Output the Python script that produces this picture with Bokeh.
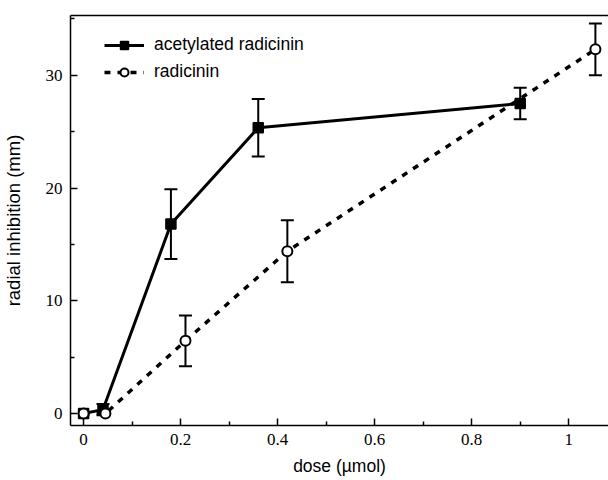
from bokeh.plotting import figure
from bokeh.models import (ColumnDataSource, Whisker, TeeHead, FixedTicker, Range1d,
                          Legend, LegendItem, LinearAxis, Title)
from bokeh.embed import file_html
from bokeh.resources import INLINE

# ---- data ----
acet_dose = [0.0, 0.04, 0.18, 0.36, 0.90]
acet_inhib = [0.0, 0.35, 16.8, 25.35, 27.5]
acet_err = [0.0, 0.5, 3.1, 2.55, 1.4]

rad_dose = [0.0, 0.045, 0.21, 0.42, 1.055]
rad_inhib = [0.0, 0.0, 6.45, 14.4, 32.3]
rad_err = [0.0, 0.0, 2.25, 2.75, 2.3]

x_ticks = [0, 0.2, 0.4, 0.6, 0.8, 1.0]
x_tick_labels = ["0", "0.2", "0.4", "0.6", "0.8", "1"]
x_minor = [0.1, 0.3, 0.5, 0.7, 0.9]
y_ticks = [0, 10, 20, 30]
y_minor = [5, 15, 25, 35]

SERIF = "Liberation Serif"
SANS = "Liberation Sans"

p = figure(frame_width=538, frame_height=410,
           x_range=Range1d(-0.027, 1.082), y_range=Range1d(-1.06, 35.3),
           output_backend="svg", toolbar_location=None,
           min_border_left=70, min_border_right=0, min_border_top=15, min_border_bottom=55)
p.outline_line_color = None
p.grid.visible = False
p.background_fill_color = "white"
p.border_fill_color = "white"

# axes styling
for ax in (p.xaxis[0], p.yaxis[0]):
    ax.axis_line_width = 1.5
    ax.axis_line_color = "black"
    ax.major_tick_in = 7
    ax.major_tick_out = 0
    ax.minor_tick_in = 4
    ax.minor_tick_out = 0
    ax.major_tick_line_width = 1.5
    ax.minor_tick_line_width = 1.5
    ax.major_label_text_font = SERIF
    ax.major_label_text_font_size = "17px"
    ax.major_label_text_color = "black"
    ax.major_label_standoff = 8

p.xaxis.ticker = FixedTicker(ticks=x_ticks, minor_ticks=x_minor)
p.xaxis.major_label_overrides = {t: l for t, l in zip(x_ticks, x_tick_labels)}
p.yaxis.ticker = FixedTicker(ticks=y_ticks, minor_ticks=y_minor)

p.xaxis.axis_label = "dose (µmol)"
p.xaxis.axis_label_text_font = SANS
p.xaxis.axis_label_text_font_style = "normal"
p.xaxis.axis_label_text_font_size = "17.5px"
p.xaxis.axis_label_text_color = "black"
p.xaxis.axis_label_standoff = 8

# top border line
top = LinearAxis(ticker=FixedTicker(ticks=[]), major_tick_in=0, major_tick_out=0,
                 minor_tick_in=0, minor_tick_out=0, major_label_text_font_size="0px",
                 axis_line_width=1.5)
p.add_layout(top, "above")

# invisible spacer (one hidden, unlabeled tick) between the y tick labels and the y label
spacer = LinearAxis(ticker=FixedTicker(ticks=[17]), axis_line_color=None,
                    major_tick_in=0, major_tick_out=19, major_tick_line_color=None,
                    minor_tick_in=0, minor_tick_out=0, major_label_standoff=0,
                    major_label_text_font_size="0px", major_label_overrides={17: ""})
p.add_layout(spacer, "left")

# y label as a left-side title, shifted upward like the reference
ytitle = Title(text="radial inhibition (mm)", align="center", offset=21, standoff=0,
               text_font=SANS, text_font_style="normal", text_font_size="18.5px",
               text_color="black")
p.add_layout(ytitle, "left")

# lines
l1 = p.line(acet_dose, acet_inhib, line_color="black", line_width=3)
l2 = p.line(rad_dose, rad_inhib, line_color="black", line_width=3.5, line_dash="6 7")

# error bars (skip zero-size ones)
def whisk(xs, ys, es):
    keep = [i for i, e in enumerate(es) if e > 0]
    src = ColumnDataSource(dict(x=[xs[i] for i in keep],
                                up=[ys[i] + es[i] for i in keep],
                                lo=[ys[i] - es[i] for i in keep]))
    w = Whisker(base="x", upper="up", lower="lo", source=src, dimension="height",
                line_color="black", line_width=2,
                upper_head=TeeHead(size=13, line_width=2, line_color="black"),
                lower_head=TeeHead(size=13, line_width=2, line_color="black"))
    p.add_layout(w)

whisk(acet_dose, acet_inhib, acet_err)
whisk(rad_dose, rad_inhib, rad_err)

s1 = p.scatter(acet_dose, acet_inhib, marker="square", size=10,
               fill_color="black", line_color="black", line_width=1.5)
s2 = p.scatter(rad_dose, rad_inhib, marker="circle", size=10,
               fill_color="white", line_color="black", line_width=2)

legend = Legend(items=[LegendItem(label="acetylated radicinin", renderers=[l1, s1]),
                       LegendItem(label="radicinin", renderers=[l2, s2])],
                location=(34, 343), margin=0, padding=5,
                glyph_width=40, glyph_height=20, label_height=20, spacing=6,
                label_standoff=10, border_line_color=None, background_fill_alpha=0,
                label_text_font=SANS, label_text_font_size="17.5px", label_text_color="black")
p.add_layout(legend)

open("out.html", "w").write(file_html(p, INLINE))
